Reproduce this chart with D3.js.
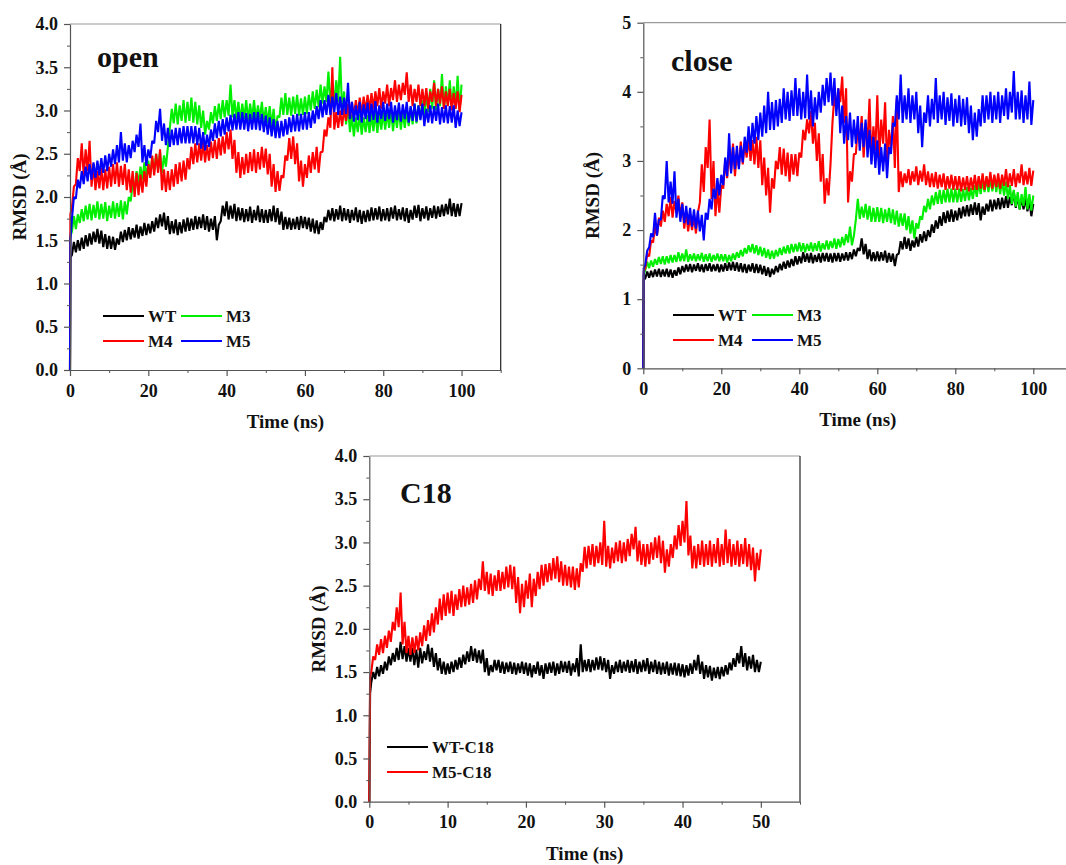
<!DOCTYPE html>
<html>
<head>
<meta charset="utf-8">
<script src="https://cdn.jsdelivr.net/npm/d3@7/dist/d3.min.js"></script>
<style>
  html, body { margin: 0; padding: 0; background: #fff; }
  svg { display: block; }
</style>
</head>
<body>
<svg id="chart" width="1066" height="865"></svg>
<script>
// ---------- DATA ----------
// sampling times (ns): 100-ns runs every 0.5 ns, 50-ns runs every 0.25 ns (after 0 and 0.1)
const time100 = [0, 0.1].concat(d3.range(1, 201).map(i => i * 0.5));
const time50 = [0, 0.1].concat(d3.range(1, 201).map(i => i * 0.25));

const seriesNames = ["WT", "M3", "M4", "M5"];
const c18Names = ["WT-C18", "M5-C18"];

// ---- "open" panel RMSD (Å)
const openWT = [0, 1.30,
  1.33,1.48, 1.36,1.50, 1.38,1.53, 1.40,1.56, 1.43,1.58, 1.45,1.60, 1.48,1.63, 1.46,1.61, 1.42,1.57, 1.40,1.55,
  1.40,1.54, 1.39,1.52, 1.45,1.60, 1.48,1.62, 1.50,1.65, 1.51,1.64, 1.53,1.68, 1.52,1.66, 1.55,1.70, 1.56,1.69,
  1.58,1.72, 1.60,1.76, 1.64,1.80, 1.66,1.82, 1.62,1.78, 1.57,1.72, 1.58,1.74, 1.56,1.71, 1.58,1.74, 1.60,1.76,
  1.61,1.75, 1.62,1.78, 1.63,1.77, 1.64,1.80, 1.62,1.78, 1.60,1.75, 1.62,1.78, 1.50,1.68, 1.72,1.90, 1.78,1.95,
  1.74,1.90, 1.75,1.92, 1.72,1.88, 1.73,1.87, 1.71,1.86, 1.72,1.89, 1.70,1.85, 1.73,1.90, 1.71,1.86, 1.70,1.85,
  1.70,1.86, 1.72,1.90, 1.71,1.87, 1.68,1.83, 1.62,1.77, 1.63,1.76, 1.62,1.75, 1.63,1.77, 1.62,1.78, 1.64,1.77,
  1.63,1.76, 1.60,1.75, 1.58,1.73, 1.57,1.71, 1.62,1.77, 1.71,1.85, 1.73,1.87, 1.72,1.86, 1.74,1.90, 1.72,1.87,
  1.73,1.86, 1.70,1.85, 1.73,1.88, 1.71,1.85, 1.69,1.84, 1.71,1.85, 1.72,1.88, 1.73,1.87, 1.74,1.89, 1.72,1.86,
  1.73,1.87, 1.72,1.88, 1.75,1.90, 1.73,1.86, 1.74,1.88, 1.72,1.87, 1.70,1.85, 1.74,1.90, 1.76,1.91, 1.72,1.87,
  1.75,1.89, 1.73,1.87, 1.76,1.90, 1.75,1.89, 1.77,1.91, 1.78,1.92, 1.80,1.98, 1.78,1.93, 1.77,1.92, 1.78,1.93];
const openM3 = [0, 1.55,
  1.60,1.78, 1.63,1.80, 1.70,1.86, 1.72,1.90, 1.74,1.92, 1.73,1.91, 1.76,1.95, 1.74,1.92, 1.75,1.94, 1.72,1.90,
  1.76,1.95, 1.75,1.93, 1.77,1.96, 1.74,1.95, 1.80,2.00, 1.95,2.15, 2.10,2.30, 2.15,2.35, 2.20,2.40, 2.22,2.42,
  2.25,2.45, 2.30,2.50, 2.32,2.52, 2.28,2.48, 2.35,2.58, 2.80,3.02, 2.85,3.08, 2.84,3.06, 2.88,3.12, 2.86,3.10,
  2.88,3.15, 2.86,3.10, 2.84,3.06, 2.80,3.00, 2.72,2.88, 2.78,2.98, 2.85,3.05, 2.88,3.08, 2.90,3.12, 2.92,3.12,
  2.94,3.30, 2.92,3.12, 2.90,3.10, 2.88,3.08, 2.90,3.12, 2.88,3.08, 2.90,3.12, 2.88,3.06, 2.90,3.10, 2.86,3.04,
  2.85,3.05, 2.82,3.02, 2.76,2.94, 2.92,3.15, 2.95,3.20, 2.95,3.15, 2.94,3.16, 2.96,3.18, 2.94,3.14, 2.95,3.16,
  2.96,3.18, 3.00,3.22, 3.02,3.24, 3.04,3.30, 3.08,3.28, 3.10,3.45, 3.08,3.32, 3.08,3.35, 3.10,3.62, 2.98,3.22,
  2.84,3.06, 2.75,2.95, 2.70,2.92, 2.75,2.96, 2.72,2.92, 2.75,2.95, 2.74,2.96, 2.76,2.98, 2.74,2.96, 2.78,2.98,
  2.78,2.98, 2.80,3.00, 2.76,2.98, 2.80,3.02, 2.78,2.98, 2.80,3.00, 2.82,3.04, 2.84,3.08, 2.85,3.06, 2.90,3.12,
  2.95,3.20, 2.98,3.25, 3.02,3.35, 3.00,3.25, 3.05,3.42, 3.02,3.28, 3.06,3.35, 3.02,3.28, 3.05,3.40, 3.00,3.30];
const openM4 = [0, 1.80,
  1.88,2.12, 2.15,2.45, 2.30,2.62, 2.25,2.55, 2.30,2.65, 2.12,2.38, 2.08,2.30, 2.10,2.34, 2.08,2.32, 2.10,2.35,
  2.12,2.38, 2.15,2.40, 2.12,2.36, 2.14,2.38, 2.08,2.32, 2.05,2.30, 2.00,2.28, 2.02,2.26, 2.05,2.30, 2.12,2.38,
  2.22,2.48, 2.25,2.50, 2.28,2.55, 2.08,2.32, 2.06,2.30, 2.08,2.32, 2.12,2.38, 2.15,2.40, 2.18,2.42, 2.20,2.45,
  2.32,2.58, 2.38,2.62, 2.40,2.62, 2.42,2.64, 2.40,2.60, 2.42,2.64, 2.45,2.66, 2.44,2.68, 2.48,2.70, 2.50,2.75,
  2.55,2.78, 2.44,2.66, 2.28,2.52, 2.22,2.46, 2.26,2.50, 2.28,2.52, 2.30,2.55, 2.28,2.52, 2.32,2.58, 2.34,2.56,
  2.26,2.50, 2.12,2.38, 2.06,2.30, 2.07,2.25, 2.22,2.48, 2.42,2.68, 2.44,2.70, 2.38,2.62, 2.18,2.42, 2.12,2.38,
  2.22,2.48, 2.28,2.52, 2.32,2.58, 2.28,2.52, 2.52,2.78, 2.70,2.92, 2.80,3.50, 2.78,2.98, 2.80,3.00, 2.82,3.02,
  2.88,3.08, 2.90,3.10, 2.92,3.12, 2.95,3.15, 2.94,3.16, 2.98,3.18, 3.00,3.20, 3.02,3.22, 3.05,3.26, 3.02,3.22,
  3.08,3.30, 3.05,3.26, 3.12,3.35, 3.10,3.30, 3.12,3.32, 3.18,3.44, 3.10,3.30, 3.05,3.25, 3.10,3.30, 3.05,3.25,
  3.05,3.26, 3.02,3.22, 3.10,3.32, 3.05,3.25, 3.08,3.28, 3.02,3.22, 3.05,3.25, 3.00,3.20, 3.02,3.22, 2.98,3.18];
const openM5 = [0, 1.50,
  1.75,2.00, 1.98,2.20, 2.10,2.30, 2.15,2.35, 2.18,2.38, 2.20,2.40, 2.22,2.42, 2.25,2.45, 2.28,2.48, 2.30,2.50,
  2.35,2.55, 2.38,2.60, 2.40,2.75, 2.42,2.62, 2.40,2.60, 2.45,2.65, 2.52,2.72, 2.58,2.85, 2.40,2.60, 2.36,2.55,
  2.45,2.65, 2.62,2.88, 2.75,3.02, 2.65,2.85, 2.60,2.80, 2.58,2.78, 2.60,2.80, 2.60,2.80, 2.62,2.82, 2.62,2.82,
  2.62,2.82, 2.62,2.82, 2.60,2.80, 2.56,2.75, 2.54,2.72, 2.58,2.78, 2.65,2.85, 2.68,2.88, 2.70,2.90, 2.72,2.92,
  2.76,2.95, 2.77,2.96, 2.78,2.98, 2.78,2.98, 2.78,2.97, 2.76,2.96, 2.78,2.98, 2.78,2.98, 2.77,2.96, 2.75,2.94,
  2.72,2.92, 2.70,2.90, 2.68,2.88, 2.68,2.88, 2.70,2.90, 2.72,2.92, 2.75,2.95, 2.76,2.96, 2.76,2.96, 2.78,2.98,
  2.78,2.98, 2.80,3.00, 2.85,3.05, 2.90,3.12, 2.92,3.12, 2.95,3.18, 2.95,3.16, 2.98,3.20, 2.95,3.16, 2.95,3.15,
  2.96,3.32, 2.90,3.10, 2.87,3.06, 2.89,3.10, 2.86,3.07, 2.90,3.09, 2.87,3.08, 2.89,3.11, 2.86,3.06, 2.90,3.10,
  2.88,3.08, 2.90,3.10, 2.86,3.06, 2.89,3.09, 2.87,3.07, 2.90,3.10, 2.86,3.05, 2.88,3.08, 2.87,3.06, 2.89,3.08,
  2.82,3.02, 2.86,3.06, 2.85,3.05, 2.88,3.08, 2.84,3.04, 2.86,3.06, 2.85,3.05, 2.86,3.06, 2.80,3.00, 2.82,2.98];

// ---- "close" panel RMSD (Å)
const closeWT = [0, 1.28,
  1.30,1.40, 1.31,1.41, 1.32,1.43, 1.33,1.44, 1.32,1.43, 1.33,1.44, 1.32,1.43, 1.31,1.42, 1.34,1.46, 1.36,1.48,
  1.39,1.50, 1.40,1.51, 1.39,1.50, 1.41,1.52, 1.40,1.50, 1.39,1.51, 1.41,1.52, 1.40,1.50, 1.41,1.51, 1.39,1.50,
  1.40,1.52, 1.41,1.53, 1.42,1.54, 1.41,1.53, 1.40,1.52, 1.39,1.51, 1.38,1.50, 1.40,1.52, 1.38,1.51, 1.38,1.50,
  1.36,1.48, 1.34,1.46, 1.32,1.44, 1.36,1.48, 1.39,1.51, 1.42,1.54, 1.44,1.56, 1.46,1.58, 1.48,1.62, 1.50,1.62,
  1.52,1.68, 1.54,1.66, 1.53,1.67, 1.52,1.64, 1.54,1.66, 1.53,1.67, 1.55,1.67, 1.54,1.66, 1.53,1.67, 1.55,1.67,
  1.54,1.66, 1.56,1.68, 1.56,1.68, 1.58,1.72, 1.62,1.74, 1.70,1.88, 1.65,1.80, 1.58,1.72, 1.55,1.68, 1.55,1.69,
  1.55,1.68, 1.56,1.70, 1.53,1.67, 1.54,1.66, 1.48,1.64, 1.66,1.84, 1.72,1.90, 1.73,1.88, 1.70,1.85, 1.75,1.90,
  1.76,1.94, 1.82,1.98, 1.84,2.00, 1.90,2.08, 1.96,2.14, 2.02,2.20, 2.06,2.26, 2.10,2.28, 2.12,2.30, 2.12,2.28,
  2.14,2.32, 2.17,2.34, 2.20,2.36, 2.20,2.37, 2.22,2.40, 2.22,2.39, 2.14,2.34, 2.22,2.38, 2.27,2.44, 2.27,2.44,
  2.30,2.46, 2.30,2.47, 2.32,2.49, 2.32,2.48, 2.36,2.56, 2.32,2.49, 2.30,2.47, 2.30,2.46, 2.27,2.43, 2.20,2.38];
const closeM3 = [0, 1.35,
  1.42,1.54, 1.45,1.56, 1.47,1.58, 1.50,1.61, 1.51,1.62, 1.50,1.62, 1.52,1.64, 1.53,1.64, 1.54,1.68, 1.55,1.66,
  1.55,1.72, 1.54,1.65, 1.56,1.66, 1.55,1.65, 1.56,1.67, 1.54,1.65, 1.55,1.66, 1.54,1.64, 1.56,1.66, 1.55,1.65,
  1.55,1.65, 1.53,1.64, 1.55,1.66, 1.57,1.68, 1.60,1.71, 1.62,1.74, 1.66,1.78, 1.68,1.80, 1.66,1.78, 1.64,1.76,
  1.62,1.74, 1.60,1.72, 1.58,1.70, 1.59,1.71, 1.62,1.74, 1.64,1.76, 1.66,1.78, 1.66,1.80, 1.68,1.80, 1.69,1.82,
  1.69,1.81, 1.68,1.80, 1.70,1.82, 1.69,1.81, 1.70,1.84, 1.69,1.81, 1.72,1.85, 1.72,1.84, 1.74,1.88, 1.73,1.87,
  1.75,1.90, 1.78,1.94, 1.82,2.05, 1.78,1.92, 2.15,2.45, 2.16,2.34, 2.18,2.38, 2.15,2.35, 2.12,2.32, 2.12,2.33,
  2.12,2.32, 2.10,2.30, 2.12,2.32, 2.10,2.30, 2.08,2.28, 2.05,2.24, 2.06,2.24, 2.00,2.20, 1.95,2.14, 1.88,2.10,
  2.02,2.20, 2.15,2.35, 2.26,2.45, 2.30,2.50, 2.36,2.55, 2.38,2.58, 2.38,2.58, 2.40,2.60, 2.40,2.60, 2.40,2.60,
  2.40,2.60, 2.41,2.59, 2.42,2.62, 2.43,2.61, 2.45,2.65, 2.48,2.68, 2.52,2.72, 2.55,2.76, 2.55,2.75, 2.56,2.78,
  2.55,2.76, 2.52,2.72, 2.50,2.70, 2.45,2.65, 2.38,2.58, 2.34,2.55, 2.30,2.52, 2.35,2.62, 2.30,2.52, 2.28,2.50];
const closeM4 = [0, 1.40,
  1.45,1.65, 1.62,1.85, 1.82,2.05, 1.92,2.18, 2.05,2.28, 2.12,2.38, 2.20,2.48, 2.18,2.42, 2.25,2.50, 2.18,2.40,
  2.02,2.26, 1.98,2.20, 2.00,2.22, 1.95,2.25, 2.40,2.95, 2.55,3.20, 2.90,3.60, 2.45,3.00, 2.20,2.60, 2.25,2.65,
  2.60,3.00, 2.75,3.15, 2.85,3.25, 2.78,3.12, 2.92,3.28, 2.95,3.25, 3.05,3.35, 3.00,3.30, 2.95,3.35, 2.90,3.30,
  2.65,3.05, 2.50,2.90, 2.25,2.75, 2.60,3.00, 2.88,3.20, 2.80,3.18, 2.78,3.12, 2.70,3.10, 2.80,3.10, 2.78,3.12,
  3.05,3.45, 3.30,3.60, 3.40,3.72, 3.25,3.55, 3.00,3.40, 2.70,3.10, 2.38,2.75, 2.50,2.95, 3.55,3.95, 3.75,4.05,
  3.85,4.22, 3.55,4.05, 2.40,2.85, 2.70,3.10, 3.10,3.50, 3.25,3.65, 3.05,3.55, 3.25,3.90, 3.00,3.50, 3.15,3.95,
  3.05,3.60, 3.25,3.85, 2.95,3.45, 3.15,3.65, 2.90,3.90, 2.55,2.85, 2.62,2.82, 2.68,2.88, 2.65,2.85, 2.70,2.92,
  2.65,2.86, 2.70,2.95, 2.65,2.85, 2.62,2.82, 2.62,2.84, 2.60,2.80, 2.62,2.82, 2.58,2.78, 2.60,2.80, 2.58,2.78,
  2.58,2.78, 2.56,2.76, 2.58,2.78, 2.56,2.76, 2.58,2.80, 2.58,2.78, 2.60,2.82, 2.58,2.78, 2.62,2.84, 2.60,2.80,
  2.62,2.82, 2.60,2.80, 2.64,2.88, 2.62,2.82, 2.64,2.88, 2.62,2.82, 2.68,2.95, 2.65,2.85, 2.66,2.90, 2.64,2.86];
const closeM5 = [0, 1.45,
  1.50,1.70, 1.75,1.95, 1.90,2.25, 1.92,2.15, 2.15,2.50, 2.45,3.00, 2.40,2.70, 2.38,2.85, 2.18,2.45, 2.12,2.38,
  2.10,2.35, 2.08,2.32, 2.05,2.30, 2.02,2.28, 1.98,2.22, 1.85,2.25, 2.15,2.45, 2.30,2.60, 2.45,2.75, 2.50,2.80,
  2.65,3.05, 2.78,3.40, 2.82,3.20, 2.88,3.22, 2.88,3.22, 2.98,3.35, 3.12,3.50, 3.15,3.55, 3.25,3.65, 3.30,3.70,
  3.35,3.80, 3.40,4.00, 3.45,3.85, 3.45,3.88, 3.50,3.90, 3.55,4.05, 3.60,4.00, 3.58,4.02, 3.65,4.20, 3.65,4.05,
  3.60,4.00, 3.62,4.25, 3.60,4.02, 3.50,3.92, 3.60,4.00, 3.70,4.10, 3.80,4.20, 3.85,4.28, 3.80,4.20, 3.65,4.05,
  3.40,3.80, 3.25,3.65, 3.30,3.70, 3.20,3.60, 3.25,3.65, 3.15,3.55, 3.20,3.60, 3.05,3.45, 2.95,3.35, 2.90,3.30,
  2.80,3.20, 2.85,3.25, 2.75,3.20, 3.10,3.55, 3.50,3.95, 3.60,4.25, 3.55,3.95, 3.60,4.05, 3.55,3.95, 3.60,4.00,
  3.40,3.80, 3.20,3.70, 3.55,3.95, 3.50,3.90, 3.60,4.20, 3.55,3.95, 3.60,4.00, 3.52,3.92, 3.58,3.98, 3.50,3.90,
  3.55,3.95, 3.50,3.90, 3.52,3.92, 3.40,3.80, 3.30,3.70, 3.35,3.75, 3.50,3.95, 3.55,3.95, 3.60,4.00, 3.55,3.95,
  3.60,4.00, 3.55,3.95, 3.65,4.05, 3.60,4.00, 3.70,4.30, 3.60,4.00, 3.60,4.02, 3.55,3.95, 3.60,4.15, 3.52,3.88];

// ---- "C18" panel RMSD (Å)
const c18WT = [0, 1.25,
  1.38,1.50, 1.42,1.56, 1.45,1.58, 1.48,1.62, 1.52,1.68, 1.58,1.72, 1.62,1.78, 1.64,1.85, 1.65,1.80, 1.62,1.78,
  1.62,1.78, 1.58,1.76, 1.55,1.78, 1.60,1.74, 1.64,1.82, 1.62,1.78, 1.56,1.72, 1.52,1.66, 1.48,1.62, 1.47,1.60,
  1.48,1.62, 1.50,1.64, 1.53,1.67, 1.55,1.70, 1.59,1.74, 1.62,1.80, 1.63,1.77, 1.61,1.75, 1.60,1.76, 1.50,1.66,
  1.46,1.58, 1.50,1.64, 1.52,1.64, 1.49,1.62, 1.48,1.61, 1.50,1.62, 1.48,1.61, 1.47,1.60, 1.49,1.62, 1.48,1.61,
  1.46,1.60, 1.44,1.58, 1.48,1.62, 1.46,1.58, 1.42,1.60, 1.48,1.61, 1.49,1.62, 1.46,1.60, 1.48,1.63, 1.50,1.62,
  1.49,1.63, 1.46,1.60, 1.50,1.66, 1.45,1.82, 1.50,1.64, 1.51,1.65, 1.50,1.64, 1.52,1.67, 1.53,1.68, 1.52,1.66,
  1.50,1.64, 1.42,1.58, 1.48,1.62, 1.50,1.64, 1.49,1.62, 1.51,1.64, 1.49,1.63, 1.50,1.65, 1.48,1.62, 1.50,1.64,
  1.51,1.66, 1.48,1.62, 1.50,1.64, 1.48,1.62, 1.47,1.61, 1.48,1.62, 1.46,1.60, 1.47,1.61, 1.46,1.60, 1.45,1.59,
  1.44,1.58, 1.46,1.60, 1.48,1.64, 1.52,1.70, 1.48,1.62, 1.42,1.58, 1.44,1.57, 1.40,1.55, 1.43,1.56, 1.42,1.56,
  1.45,1.58, 1.47,1.61, 1.52,1.66, 1.56,1.72, 1.60,1.80, 1.56,1.72, 1.52,1.68, 1.54,1.70, 1.50,1.64, 1.50,1.62];
const c18M5 = [0, 1.45,
  1.50,1.68, 1.64,1.82, 1.70,1.88, 1.72,1.92, 1.78,1.98, 1.85,2.08, 1.98,2.25, 2.02,2.42, 1.82,2.08, 1.72,1.92,
  1.70,1.90, 1.72,1.92, 1.75,1.96, 1.80,2.04, 1.86,2.10, 1.92,2.18, 1.96,2.25, 2.05,2.35, 2.10,2.40, 2.15,2.42,
  2.18,2.44, 2.15,2.40, 2.22,2.46, 2.25,2.50, 2.26,2.48, 2.28,2.52, 2.30,2.56, 2.34,2.58, 2.45,2.78, 2.44,2.66,
  2.40,2.64, 2.38,2.62, 2.44,2.68, 2.44,2.66, 2.46,2.72, 2.48,2.74, 2.46,2.72, 2.30,2.60, 2.18,2.52, 2.25,2.56,
  2.35,2.64, 2.25,2.58, 2.38,2.66, 2.46,2.74, 2.50,2.75, 2.54,2.76, 2.56,2.82, 2.58,2.84, 2.54,2.78, 2.50,2.74,
  2.50,2.72, 2.48,2.72, 2.45,2.70, 2.48,2.76, 2.66,2.95, 2.70,2.96, 2.74,2.98, 2.72,2.96, 2.76,3.00, 2.74,3.25,
  2.72,2.96, 2.70,2.94, 2.76,3.00, 2.78,3.02, 2.76,3.00, 2.78,3.04, 2.84,3.10, 2.92,3.18, 2.78,3.02, 2.74,2.98,
  2.72,2.98, 2.75,3.00, 2.80,3.06, 2.82,3.08, 2.76,3.02, 2.65,2.92, 2.72,2.98, 2.82,3.08, 2.92,3.20, 2.96,3.25,
  3.00,3.48, 2.85,3.08, 2.70,2.96, 2.70,2.98, 2.74,3.02, 2.72,2.98, 2.74,3.02, 2.72,2.98, 2.76,3.05, 2.72,2.98,
  2.74,3.15, 2.76,3.04, 2.72,2.98, 2.74,3.02, 2.72,2.98, 2.75,3.05, 2.72,2.98, 2.68,2.94, 2.55,2.88, 2.68,2.92];

const openTicksY = [0, 0.5, 1, 1.5, 2, 2.5, 3, 3.5, 4];
const closeTicksY = [0, 1, 2, 3, 4, 5];
const ticksX100 = [0, 20, 40, 60, 80, 100];
const ticksX50 = [0, 10, 20, 30, 40, 50];
const colors = { WT: "#000000", M3: "#00ee00", M4: "#ff0000", M5: "#0000ff" };

// ---------- DRAW ----------
const FONT = '"Liberation Serif", "Times New Roman", serif';
const svg = d3.select("#chart");

function label(g, x, y, size, str, anchor) {
  return g.append("text").attr("x", x).attr("y", y)
    .attr("font-family", FONT).attr("font-weight", "bold").attr("font-size", size)
    .attr("fill", "#111").attr("text-anchor", anchor || "start").text(str);
}

function panel(cfg) {
  const x = d3.scaleLinear().domain(cfg.xDomain).range([cfg.left, cfg.right]);
  const y = d3.scaleLinear().domain(cfg.yDomain).range([cfg.bottom, cfg.top]);
  const g = svg.append("g");

  const line = d3.line().x(d => x(d[0])).y(d => y(d[1]));
  cfg.series.forEach(s => {
    g.append("path")
      .datum(cfg.time.map((t, i) => [t, s.values[i]]))
      .attr("fill", "none")
      .attr("stroke", s.color)
      .attr("stroke-width", 2.1)
      .attr("stroke-linejoin", "bevel")
      .attr("d", line);
  });

  // frame top/right
  g.append("line").attr("x1", cfg.left).attr("x2", cfg.right)
    .attr("y1", cfg.top).attr("y2", cfg.top).attr("stroke", "#9a9a9a").attr("stroke-width", 1.2);
  g.append("line").attr("x1", cfg.right).attr("x2", cfg.right)
    .attr("y1", cfg.top).attr("y2", cfg.bottom).attr("stroke", "#222").attr("stroke-width", 1.2);

  // minor ticks
  g.append("g").attr("transform", `translate(0,${cfg.bottom})`)
    .call(d3.axisBottom(x).tickValues(cfg.xMinor).tickSize(3).tickFormat(""))
    .call(a => a.select(".domain").remove())
    .selectAll("line").attr("stroke", "#555");
  g.append("g").attr("transform", `translate(${cfg.left},0)`)
    .call(d3.axisLeft(y).tickValues(cfg.yMinor).tickSize(3).tickFormat(""))
    .call(a => a.select(".domain").remove())
    .selectAll("line").attr("stroke", "#555");

  // major axes
  const ax = g.append("g").attr("transform", `translate(0,${cfg.bottom})`)
    .call(d3.axisBottom(x).tickValues(cfg.xTicks).tickSize(6).tickPadding(8).tickSizeOuter(0));
  const ay = g.append("g").attr("transform", `translate(${cfg.left},0)`)
    .call(d3.axisLeft(y).tickValues(cfg.yTicks).tickSize(6).tickPadding(6).tickSizeOuter(0)
      .tickFormat(cfg.yFormat));
  [ax, ay].forEach(a => {
    a.attr("font-family", FONT);
    a.select(".domain").attr("stroke", "#555").attr("stroke-width", 1.2);
    a.selectAll(".tick line").attr("stroke", "#555").attr("stroke-width", 1.2);
    a.selectAll(".tick text").attr("font-size", 18).attr("font-family", FONT)
      .attr("font-weight", "bold").attr("fill", "#111");
  });

  // axis titles
  label(g, (cfg.left + cfg.right) / 2, cfg.bottom + 58, 19, "Time (ns)", "middle");
  label(g, 0, 0, 19, "RMSD (Å)", "middle")
    .attr("transform", `translate(${cfg.left - 44},${(cfg.top + cfg.bottom) / 2}) rotate(-90)`);

  // panel title
  label(g, cfg.titleX, cfg.titleY, 30, cfg.title);

  // legend
  cfg.legend.forEach(it => {
    g.append("line").attr("x1", it.x).attr("x2", it.x + 41).attr("y1", it.y).attr("y2", it.y)
      .attr("stroke", it.color).attr("stroke-width", 2);
    label(g, it.x + 45, it.y + 6, 17, it.name);
  });
}

panel({
  left: 70, right: 500.7, top: 24, bottom: 370,
  xDomain: [0, 110], yDomain: [0, 4],
  xTicks: ticksX100, xMinor: [10, 30, 50, 70, 90, 110], yTicks: openTicksY,
  yMinor: [0.25, 0.75, 1.25, 1.75, 2.25, 2.75, 3.25, 3.75], yFormat: d3.format(".1f"),
  time: time100,
  series: [
    { values: openWT, color: colors.WT }, { values: openM3, color: colors.M3 },
    { values: openM4, color: colors.M4 }, { values: openM5, color: colors.M5 }],
  title: "open", titleX: 97, titleY: 67,
  legend: [
    { name: seriesNames[0], color: colors.WT, x: 103, y: 316 },
    { name: seriesNames[1], color: colors.M3, x: 181, y: 316 },
    { name: seriesNames[2], color: colors.M4, x: 103, y: 341 },
    { name: seriesNames[3], color: colors.M5, x: 181, y: 341 }]
});

panel({
  left: 643.3, right: 1072.3, top: 22.7, bottom: 368.3,
  xDomain: [0, 110], yDomain: [0, 5],
  xTicks: ticksX100, xMinor: [10, 30, 50, 70, 90], yTicks: closeTicksY,
  yMinor: [0.5, 1.5, 2.5, 3.5, 4.5], yFormat: d3.format("d"),
  time: time100,
  series: [
    { values: closeWT, color: colors.WT }, { values: closeM3, color: colors.M3 },
    { values: closeM4, color: colors.M4 }, { values: closeM5, color: colors.M5 }],
  title: "close", titleX: 671, titleY: 71,
  legend: [
    { name: seriesNames[0], color: colors.WT, x: 673, y: 315 },
    { name: seriesNames[1], color: colors.M3, x: 752, y: 315 },
    { name: seriesNames[2], color: colors.M4, x: 673, y: 340 },
    { name: seriesNames[3], color: colors.M5, x: 752, y: 340 }]
});

panel({
  left: 369.3, right: 800, top: 456, bottom: 801.7,
  xDomain: [0, 55], yDomain: [0, 4],
  xTicks: ticksX50, xMinor: [5, 15, 25, 35, 45, 55], yTicks: openTicksY,
  yMinor: [0.25, 0.75, 1.25, 1.75, 2.25, 2.75, 3.25, 3.75], yFormat: d3.format(".1f"),
  time: time50,
  series: [
    { values: c18WT, color: colors.WT }, { values: c18M5, color: colors.M4 }],
  title: "C18", titleX: 400, titleY: 503,
  legend: [
    { name: c18Names[0], color: colors.WT, x: 387, y: 747 },
    { name: c18Names[1], color: colors.M4, x: 387, y: 772 }]
});
</script>
</body>
</html>
